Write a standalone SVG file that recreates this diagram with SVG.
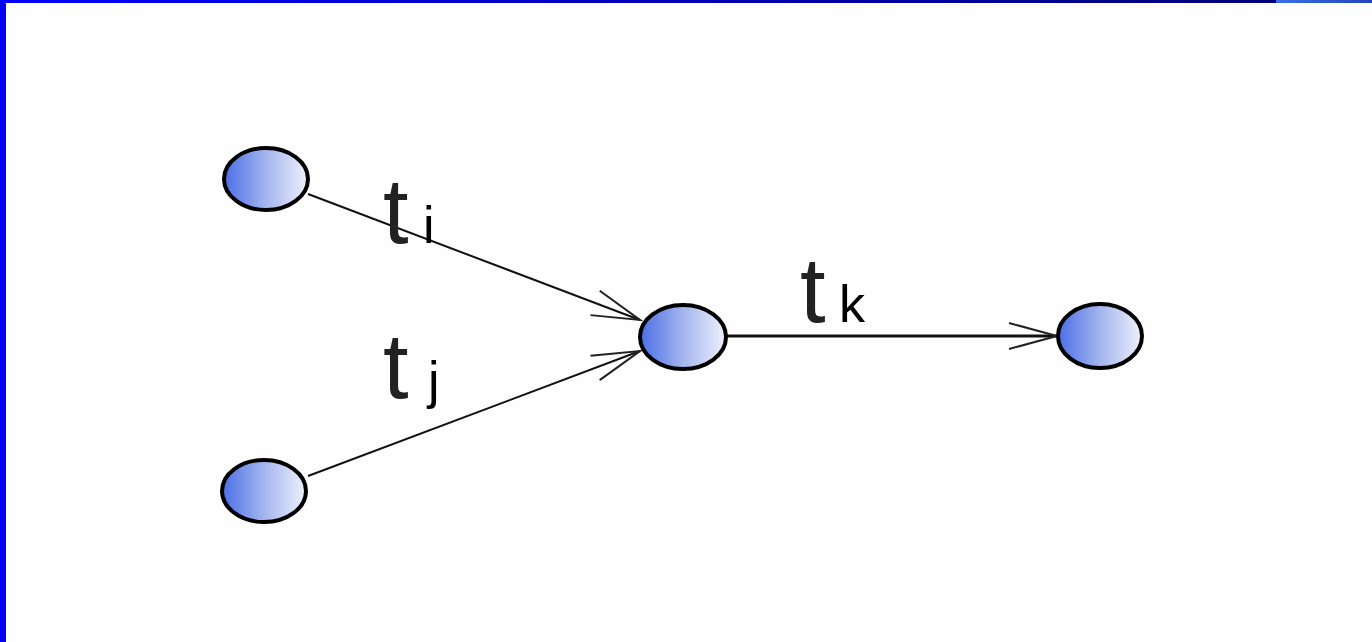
<svg xmlns="http://www.w3.org/2000/svg" width="1372" height="642" viewBox="0 0 1372 642">
  <defs>
    <linearGradient id="nodeFill" x1="0" y1="0" x2="1" y2="0">
      <stop offset="0" stop-color="#4a6ee6"/>
      <stop offset="0.5" stop-color="#a4b5ee"/>
      <stop offset="1" stop-color="#eef1fd"/>
    </linearGradient>
    <linearGradient id="topBar" x1="0" y1="0" x2="1372" y2="0" gradientUnits="userSpaceOnUse">
      <stop offset="0" stop-color="#0000ff"/>
      <stop offset="0.93" stop-color="#000078"/>
      <stop offset="0.93" stop-color="#3a70e8"/>
      <stop offset="1" stop-color="#2244bb"/>
    </linearGradient>
    <marker id="arrow" markerUnits="userSpaceOnUse" markerWidth="60" markerHeight="40" viewBox="-50 -20 60 40" refX="0" refY="0" orient="auto">
      <path d="M-48,-13 L0,0 L-48,13" fill="none" stroke="#222" stroke-width="2"/>
    </marker>
    <style>
      .node { fill: url(#nodeFill); stroke: #000; stroke-width: 4; }
      .edge { fill: none; stroke: #111; stroke-width: 2; marker-end: url(#arrow); }
      .t { font-family: "Liberation Sans", Arial, sans-serif; font-size: 92px; fill: #222; }
      .sub { font-family: "Liberation Sans", Arial, sans-serif; font-size: 52px; fill: #000; }
    </style>
  </defs>
  <rect x="0" y="0" width="1372" height="642" fill="#fefefe"/>
  <rect x="0" y="0" width="1372" height="3" fill="url(#topBar)"/>
  <rect x="0" y="0" width="6" height="642" fill="#0000ff"/>

  <g id="connectors">
    <path class="edge" d="M308,194 L640,320"/>
    <path class="edge" d="M308,476 L640,351"/>
    <path class="edge" d="M727,336 L1057,336" style="stroke-width:3"/>
  </g>

  <g id="node-a"><ellipse class="node" cx="266" cy="179" rx="42" ry="31"/></g>
  <g id="node-b"><ellipse class="node" cx="264" cy="491" rx="42" ry="31"/></g>
  <g id="node-c"><ellipse class="node" cx="683" cy="337" rx="43" ry="32"/></g>
  <g id="node-d"><ellipse class="node" cx="1100" cy="336" rx="42" ry="32"/></g>

  <g id="label-ti"><text class="t" x="383" y="243">t</text><text class="sub" x="423" y="243">i</text></g>
  <g id="label-tj"><text class="t" x="383" y="398">t</text><text class="sub" x="428" y="398">j</text></g>
  <g id="label-tk"><text class="t" x="800" y="322">t</text><text class="sub" x="839" y="322">k</text></g>
</svg>
